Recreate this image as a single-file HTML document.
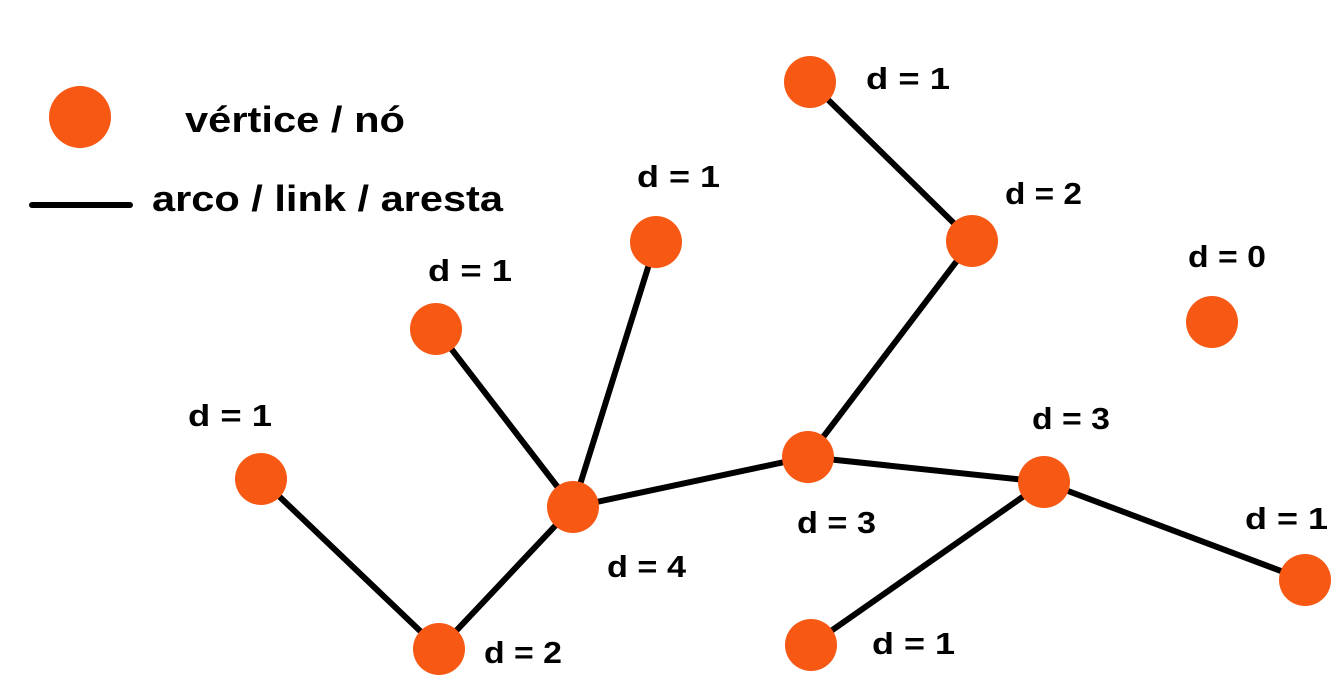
<!DOCTYPE html>
<html><head><meta charset="utf-8"><style>html,body{margin:0;padding:0;background:#fff;}svg{display:block}</style></head>
<body>
<svg width="1339" height="686" viewBox="0 0 1339 686" xmlns="http://www.w3.org/2000/svg">
<g stroke="#000" stroke-width="6" stroke-linecap="round">
<line x1="810" y1="82" x2="972" y2="241"/>
<line x1="972" y1="241" x2="808" y2="457"/>
<line x1="656" y1="242" x2="573" y2="507"/>
<line x1="436" y1="329" x2="573" y2="507"/>
<line x1="261" y1="479" x2="439" y2="649"/>
<line x1="439" y1="649" x2="573" y2="507"/>
<line x1="573" y1="507" x2="808" y2="457"/>
<line x1="808" y1="457" x2="1044" y2="482"/>
<line x1="1044" y1="482" x2="811" y2="645"/>
<line x1="1044" y1="482" x2="1305" y2="580"/>
<line x1="32" y1="205" x2="130" y2="205"/>
</g>
<g fill="#f75814">
<circle cx="80" cy="117" r="31"/>
<circle cx="810" cy="82" r="26"/>
<circle cx="972" cy="241" r="26"/>
<circle cx="656" cy="242" r="26"/>
<circle cx="436" cy="329" r="26"/>
<circle cx="1212" cy="322" r="26"/>
<circle cx="261" cy="479" r="26"/>
<circle cx="573" cy="507" r="26"/>
<circle cx="808" cy="457" r="26"/>
<circle cx="1044" cy="482" r="26"/>
<circle cx="1305" cy="580" r="26"/>
<circle cx="439" cy="649" r="26"/>
<circle cx="811" cy="645" r="26"/>
</g>
<g font-family="Liberation Sans, sans-serif" font-weight="bold" font-size="31" fill="#000" lengthAdjust="spacingAndGlyphs">
<text x="185" y="132" font-size="36" textLength="220" lengthAdjust="spacingAndGlyphs">vértice / nó</text>
<text x="152" y="211" font-size="36" textLength="351" lengthAdjust="spacingAndGlyphs">arco / link / aresta</text>
<text x="866" y="89" textLength="84" lengthAdjust="spacingAndGlyphs">d = 1</text>
<text x="1005" y="204" textLength="77" lengthAdjust="spacingAndGlyphs">d = 2</text>
<text x="637" y="187" textLength="83" lengthAdjust="spacingAndGlyphs">d = 1</text>
<text x="428" y="281" textLength="84" lengthAdjust="spacingAndGlyphs">d = 1</text>
<text x="1188" y="267" textLength="78" lengthAdjust="spacingAndGlyphs">d = 0</text>
<text x="188" y="426" textLength="84" lengthAdjust="spacingAndGlyphs">d = 1</text>
<text x="1032" y="429" textLength="78" lengthAdjust="spacingAndGlyphs">d = 3</text>
<text x="797" y="533" textLength="79" lengthAdjust="spacingAndGlyphs">d = 3</text>
<text x="607" y="577" textLength="79" lengthAdjust="spacingAndGlyphs">d = 4</text>
<text x="1245" y="529" textLength="83" lengthAdjust="spacingAndGlyphs">d = 1</text>
<text x="484" y="663" textLength="78" lengthAdjust="spacingAndGlyphs">d = 2</text>
<text x="872" y="654" textLength="83" lengthAdjust="spacingAndGlyphs">d = 1</text>
</g>
</svg>
</body></html>
